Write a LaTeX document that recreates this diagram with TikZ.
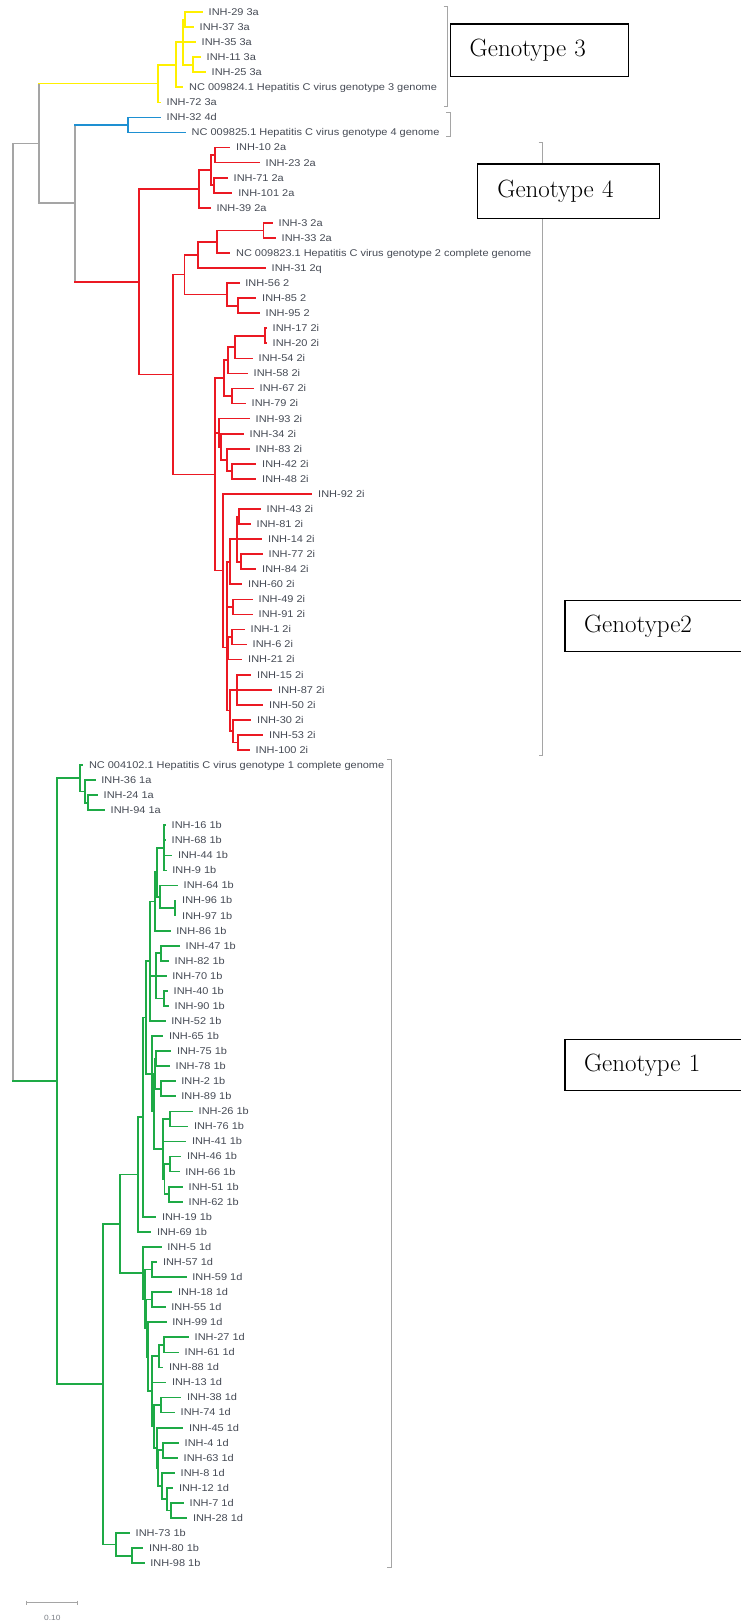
\documentclass[tikz,border=0pt]{standalone}
\usepackage{fontspec}
\newfontfamily\labfont[FakeStretch=1.12]{Liberation Sans}
\usetikzlibrary{calc}
\definecolor{cY}{RGB}{255,240,0}
\definecolor{cB}{RGB}{30,144,210}
\definecolor{cR}{RGB}{235,25,35}
\definecolor{cG}{RGB}{30,170,70}
\definecolor{cK}{RGB}{165,165,165}
\definecolor{cT}{RGB}{70,75,85}
\tikzset{
  br/.style={line width=1.7pt, line cap=rect},
  lab/.style={font=\labfont\fontsize{9.8}{10}\selectfont, text=cT, anchor=base west, inner sep=0pt},
  brk/.style={draw=cK, line width=0.9pt},
  gbox/.style={draw=black, line width=1.4pt, fill=white, font=\fontsize{25}{30}\selectfont, align=left, inner ysep=0pt, anchor=north west},
}
\newcommand\lf[4]{\coordinate (#1) at (#2,{12+15.06*#3}); \node[lab] (t#1) at ([xshift=6.5pt,yshift=-3.4pt]#1) {#4};}
\newcommand\vn[5]{\path let \p1=(#3), \p2=(#4) in coordinate (#1) at (#2pt,{0.5*(\y1+\y2)}); \draw[br,#5] (#1 |- #3) -- (#1 |- #4);}
\newcommand\nd[6]{\vn{#1}{#2}{#3}{#4}{#5}\foreach \kid in {#6}{\draw[br,#5] (#1 |- \kid) -- (\kid);}}
\begin{document}
\begin{tikzpicture}[x=1pt,y=-1pt]
\fill[white] (0,0) rectangle (740,1623);
\useasboundingbox (0,0) rectangle (740,1623);
% ---------- genotype 3 (yellow)
\lf{L29}{202}{0}{INH-29 3a}
\lf{L37}{193}{1}{INH-37 3a}
\lf{L35}{195}{2}{INH-35 3a}
\lf{L11}{200}{3}{INH-11 3a}
\lf{L25}{205}{4}{INH-25 3a}
\lf{N3}{182.5}{5}{NC 009824.1 Hepatitis C virus genotype 3 genome}
\lf{L72}{160}{6}{INH-72 3a}
\nd{y1}{185}{L29}{L37}{cY}{L29,L37}
\nd{y2}{193}{L11}{L25}{cY}{L11,L25}
\nd{y3}{183}{y1}{y2}{cY}{y1,L35,y2}
\nd{y4}{176}{y3}{N3}{cY}{y3,N3}
\nd{y5}{158}{y4}{L72}{cY}{y4,L72}
% ---------- genotype 4 (blue)
\lf{L32}{160}{7}{INH-32 4d}
\lf{N4}{185}{8}{NC 009825.1 Hepatitis C virus genotype 4 genome}
\nd{b1}{128}{L32}{N4}{cB}{L32,N4}
% ---------- genotype 2 (red)
\lf{L10}{229.4}{9}{INH-10 2a}
\lf{L23}{259}{10}{INH-23 2a}
\lf{L71}{227}{11}{INH-71 2a}
\lf{L101}{231.6}{12}{INH-101 2a}
\lf{L39}{209.8}{13}{INH-39 2a}
\lf{L3}{272}{14}{INH-3 2a}
\lf{L33}{275}{15}{INH-33 2a}
\lf{N2}{229.4}{16}{NC 009823.1 Hepatitis C virus genotype 2 complete genome}
\lf{L31}{265}{17}{INH-31 2q}
\lf{L56}{238.7}{18}{INH-56 2}
\lf{L85}{255.5}{19}{INH-85 2}
\lf{L95}{259}{20}{INH-95 2}
\lf{L17}{266}{21}{INH-17 2i}
\lf{L20}{266}{22}{INH-20 2i}
\lf{L54}{252}{23}{INH-54 2i}
\lf{L58}{247}{24}{INH-58 2i}
\lf{L67}{253}{25}{INH-67 2i}
\lf{L79}{245}{26}{INH-79 2i}
\lf{L93}{249}{27}{INH-93 2i}
\lf{L34}{243}{28}{INH-34 2i}
\lf{L83}{249}{29}{INH-83 2i}
\lf{L42}{255.5}{30}{INH-42 2i}
\lf{L48}{255.5}{31}{INH-48 2i}
\lf{L92}{311.5}{32}{INH-92 2i}
\lf{L43}{260}{33}{INH-43 2i}
\lf{L81}{250}{34}{INH-81 2i}
\lf{L14}{261.5}{35}{INH-14 2i}
\lf{L77}{262}{36}{INH-77 2i}
\lf{L84}{255.5}{37}{INH-84 2i}
\lf{L60}{241.5}{38}{INH-60 2i}
\lf{L49}{252}{39}{INH-49 2i}
\lf{L91}{252}{40}{INH-91 2i}
\lf{L1}{244}{41}{INH-1 2i}
\lf{L6}{246}{42}{INH-6 2i}
\lf{L21}{241.5}{43}{INH-21 2i}
\lf{L15}{250.5}{44}{INH-15 2i}
\lf{L87}{271.5}{45}{INH-87 2i}
\lf{L50}{262.5}{46}{INH-50 2i}
\lf{L30}{250.5}{47}{INH-30 2i}
\lf{L53}{262.5}{48}{INH-53 2i}
\lf{L100}{249}{49}{INH-100 2i}
\nd{r1023}{215}{L10}{L23}{cR}{L10,L23}
\nd{r71101}{214}{L71}{L101}{cR}{L71,L101}
\nd{rA}{211}{r1023}{r71101}{cR}{r1023,r71101}
\nd{r2a}{199}{rA}{L39}{cR}{rA,L39}
\nd{r333}{263.6}{L3}{L33}{cR}{L3,L33}
\nd{rV}{216.8}{r333}{N2}{cR}{r333,N2}
\nd{rU}{198}{rV}{L31}{cR}{rV,L31}
\nd{r8595}{238}{L85}{L95}{cR}{L85,L95}
\nd{rW}{226.8}{L56}{r8595}{cR}{L56,r8595}
\nd{rT}{184.6}{rU}{rW}{cR}{rU,rW}
\nd{r1720}{265}{L17}{L20}{cR}{L17,L20}
\nd{r1754}{235}{r1720}{L54}{cR}{r1720,L54}
\nd{r58}{228.3}{r1754}{L58}{cR}{r1754,L58}
\nd{r6779}{231.7}{L67}{L79}{cR}{L67,L79}
\nd{r224}{224}{r58}{r6779}{cR}{r58,r6779}
\nd{r4248}{232.3}{L42}{L48}{cR}{L42,L48}
\nd{r83}{226.7}{L83}{r4248}{cR}{L83,r4248}
\nd{rQ}{220.7}{L34}{r83}{cR}{L34,r83}
\nd{rP}{219}{L93}{rQ}{cR}{L93,rQ}
\nd{r4381}{239}{L43}{L81}{cR}{L43,L81}
\nd{r7784}{240.7}{L77}{L84}{cR}{L77,L84}
\nd{rE}{236.7}{r4381}{r7784}{cR}{r4381,L14,r7784}
\nd{rF}{230}{rE}{L60}{cR}{rE,L60}
\nd{r4991}{233.3}{L49}{L91}{cR}{L49,L91}
\nd{rG}{227.3}{rF}{r4991}{cR}{rF,r4991}
\nd{r16}{231.7}{L1}{L6}{cR}{L1,L6}
\nd{rH}{227.7}{r16}{L21}{cR}{r16,L21}
\nd{r1550}{237.3}{L15}{L50}{cR}{L15,L87,L50}
\nd{r53100}{238.3}{L53}{L100}{cR}{L53,L100}
\nd{r30}{233.3}{L30}{r53100}{cR}{L30,r53100}
\nd{rJ}{230}{r1550}{r30}{cR}{r1550,r30}
\nd{rL}{226.7}{rG}{rJ}{cR}{rG,rH,rJ}
\nd{rN}{222.7}{L92}{rL}{cR}{L92,rL}
\nd{rX}{215}{r224}{rN}{cR}{r224,rP,rN}
\nd{rS}{173.3}{rT}{rX}{cR}{rT,rX}
\nd{rR}{139.3}{r2a}{rS}{cR}{r2a,rS}
% ---------- genotype 1 (green)
\lf{N1}{82.3}{50}{NC 004102.1 Hepatitis C virus genotype 1 complete genome}
\lf{L36}{94.7}{51}{INH-36 1a}
\lf{L24}{97}{52}{INH-24 1a}
\lf{L94}{104}{53}{INH-94 1a}
\lf{L16}{165}{54}{INH-16 1b}
\lf{L68}{165}{55}{INH-68 1b}
\lf{L44}{171.3}{56}{INH-44 1b}
\lf{L9}{165.7}{57}{INH-9 1b}
\lf{L64}{177}{58}{INH-64 1b}
\lf{L96}{175.5}{59}{INH-96 1b}
\lf{L97}{175.5}{60}{INH-97 1b}
\lf{L86}{169.7}{61}{INH-86 1b}
\lf{L47}{179}{62}{INH-47 1b}
\lf{L82}{168}{63}{INH-82 1b}
\lf{L70}{165.7}{64}{INH-70 1b}
\lf{L40}{167}{65}{INH-40 1b}
\lf{L90}{168}{66}{INH-90 1b}
\lf{L52}{164.7}{67}{INH-52 1b}
\lf{L65}{162.3}{68}{INH-65 1b}
\lf{L75}{170.3}{69}{INH-75 1b}
\lf{L78}{169}{70}{INH-78 1b}
\lf{L2}{174.7}{71}{INH-2 1b}
\lf{L89}{174.7}{72}{INH-89 1b}
\lf{L26}{192}{73}{INH-26 1b}
\lf{L76}{187.3}{74}{INH-76 1b}
\lf{L41}{185.3}{75}{INH-41 1b}
\lf{L46}{180.3}{76}{INH-46 1b}
\lf{L66}{178.7}{77}{INH-66 1b}
\lf{L51}{182}{78}{INH-51 1b}
\lf{L62}{182}{79}{INH-62 1b}
\lf{L19}{155.3}{80}{INH-19 1b}
\lf{L69}{150.3}{81}{INH-69 1b}
\lf{L5}{160.7}{82}{INH-5 1d}
\lf{L57}{156.3}{83}{INH-57 1d}
\lf{L59}{185.7}{84}{INH-59 1d}
\lf{L18}{171.3}{85}{INH-18 1d}
\lf{L55}{164.7}{86}{INH-55 1d}
\lf{L99}{165.7}{87}{INH-99 1d}
\lf{L27}{188}{88}{INH-27 1d}
\lf{L61}{178}{89}{INH-61 1d}
\lf{L88}{162.3}{90}{INH-88 1d}
\lf{L13}{165.3}{91}{INH-13 1d}
\lf{L38}{180.3}{92}{INH-38 1d}
\lf{L74}{174}{93}{INH-74 1d}
\lf{L45}{182.3}{94}{INH-45 1d}
\lf{L4}{178}{95}{INH-4 1d}
\lf{L63}{177}{96}{INH-63 1d}
\lf{L8}{174}{97}{INH-8 1d}
\lf{L12}{172.3}{98}{INH-12 1d}
\lf{L7}{183}{99}{INH-7 1d}
\lf{L28}{186.3}{100}{INH-28 1d}
\lf{L73}{129}{101}{INH-73 1b}
\lf{L80}{142.3}{102}{INH-80 1b}
\lf{L98}{143.7}{103}{INH-98 1b}
\nd{g2494}{88.3}{L24}{L94}{cG}{L24,L94}
\nd{g36}{85}{L36}{g2494}{cG}{L36,g2494}
\nd{g1a}{80}{N1}{g36}{cG}{N1,g36}
\nd{p1}{164.3}{L16}{L9}{cG}{L16,L68,L44,L9}
\nd{p2}{175}{L96}{L97}{cG}{L96,L97}
\nd{p3}{160}{L64}{p2}{cG}{L64,p2}
\nd{p4}{157}{p1}{p3}{cG}{p1,p3}
\nd{p5}{155}{p4}{L86}{cG}{p4,L86}
\nd{q1}{161}{L47}{L82}{cG}{L47,L82}
\nd{q2}{164.3}{L40}{L90}{cG}{L40,L90}
\nd{q3}{156}{q1}{q2}{cG}{q1,L70,q2}
\nd{q4}{150}{p5}{L52}{cG}{p5,q3,L52}
\nd{g7578}{156}{L75}{L78}{cG}{L75,L78}
\nd{g289}{160.7}{L2}{L89}{cG}{L2,L89}
\nd{gR2}{155.3}{g7578}{g289}{cG}{g7578,g289}
\nd{g2676}{170}{L26}{L76}{cG}{L26,L76}
\nd{g4666}{170}{L46}{L66}{cG}{L46,L66}
\nd{g5162}{169.3}{L51}{L62}{cG}{L51,L62}
\nd{gR3}{164.5}{g4666}{g5162}{cG}{g4666,g5162}
\nd{gR4}{163.3}{g2676}{gR3}{cG}{g2676,L41,gR3}
\nd{gR5}{154}{gR2}{gR4}{cG}{gR2,gR4}
\nd{gR6}{151.7}{L65}{gR5}{cG}{L65,gR5}
\nd{gQ5}{145.7}{q4}{gR6}{cG}{q4,gR6}
\nd{g143}{143.3}{gQ5}{L19}{cG}{gQ5,L19}
\nd{g1b}{138.3}{g143}{L69}{cG}{g143,L69}
\nd{g5759}{151.7}{L57}{L59}{cG}{L57,L59}
\nd{g1855}{151.7}{L18}{L55}{cG}{L18,L55}
\nd{g2761}{164.3}{L27}{L61}{cG}{L27,L61}
\nd{gE1}{159.3}{g2761}{L88}{cG}{g2761,L88}
\nd{g3874}{161}{L38}{L74}{cG}{L38,L74}
\nd{g463}{163.3}{L4}{L63}{cG}{L4,L63}
\nd{g728}{170.7}{L7}{L28}{cG}{L7,L28}
\nd{gD0}{166.7}{L12}{g728}{cG}{L12,g728}
\nd{gD1}{161.7}{L8}{gD0}{cG}{L8,gD0}
\nd{gD2}{158.3}{g463}{gD1}{cG}{g463,gD1}
\nd{gD3}{156.7}{L45}{gD2}{cG}{L45,gD2}
\nd{gD4}{154}{g3874}{gD3}{cG}{g3874,gD3}
\nd{gE2}{151.7}{gE1}{gD4}{cG}{gE1,L13,gD4}
\nd{gE3}{148.3}{L99}{gE2}{cG}{L99,gE2}
\nd{gE4}{146.5}{g1855}{gE3}{cG}{g1855,gE3}
\nd{gE5}{144.8}{g5759}{gE4}{cG}{g5759,gE4}
\nd{g1d}{143}{L5}{gE5}{cG}{L5,gE5}
\nd{gC}{120}{g1b}{g1d}{cG}{g1b,g1d}
\nd{g8098}{131.7}{L80}{L98}{cG}{L80,L98}
\nd{g73}{116}{L73}{g8098}{cG}{L73,g8098}
\nd{gB}{103.3}{gC}{g73}{cG}{gC,g73}
\nd{gR}{56.7}{g1a}{gB}{cG}{g1a,gB}
% ---------- backbone (gray)
\vn{k2}{75}{b1}{rR}{cK}
\draw[br,cB] (k2 |- b1) -- (b1);
\draw[br,cR] (k2 |- rR) -- (rR);
\vn{k1}{39}{y5}{k2}{cK}
\draw[br,cY] (k1 |- y5) -- (y5);
\draw[br,cK] (k1 |- k2) -- (k2);
\vn{k0}{13}{k1}{gR}{cK}
\draw[br,cK] (k0 |- k1) -- (k1);
\draw[br,cG] (k0 |- gR) -- (gR);
% ---------- brackets
\draw[brk] (443.5,6.5) -- (447.5,6.5) -- (447.5,106) -- (443.5,106);
\draw[brk] (446,112.7) -- (450,112.7) -- (450,136.7) -- (446,136.7);
\draw[brk] (538.7,142.7) -- (542.7,142.7) -- (542.7,755) -- (538.7,755);
\draw[brk] (387,759) -- (391,759) -- (391,1567) -- (387,1567);
% ---------- genotype boxes
\node[gbox, inner xsep=19pt, text width=139.7pt, minimum height=52.7pt] (box3) at (450,23.3) {Genotype 3};
\node[gbox, inner xsep=20pt, text width=142.3pt, minimum height=54.4pt] (box4) at (476.7,163.3) {Genotype 4};
\node[gbox, inner xsep=19pt, text width=142.7pt, minimum height=51pt] (box2) at (564.3,600) {Genotype2};
\node[gbox, inner xsep=19pt, text width=142.7pt, minimum height=51pt] (box1) at (564.3,1039) {Genotype 1};
% ---------- scale bar
\coordinate (s0) at (26.7,1602.7);
\coordinate (s1) at (77.7,1602.7);
\draw[draw=cK, line width=0.9pt] (s0) -- (s1);
\draw[draw=cK, line width=0.9pt] ([yshift=2pt]s0) -- ([yshift=-2pt]s0);
\draw[draw=cK, line width=0.9pt] ([yshift=2pt]s1) -- ([yshift=-2pt]s1);
\node[font=\labfont\fontsize{7.5}{8}\selectfont, text=cT!70, inner sep=0pt] (sclab) at (52.3,1618) {0.10};
\end{tikzpicture}
\end{document}
